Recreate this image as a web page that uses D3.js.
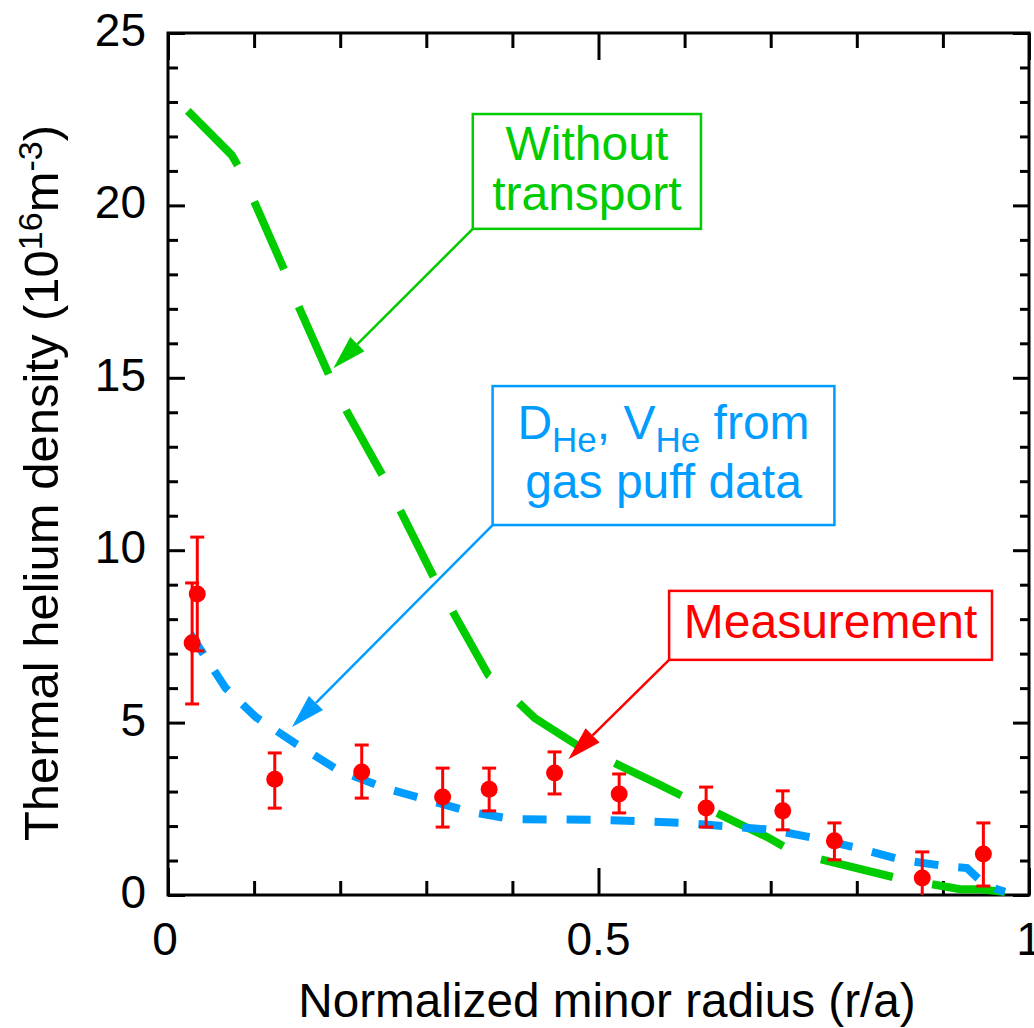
<!DOCTYPE html>
<html>
<head>
<meta charset="utf-8">
<script src="https://cdn.jsdelivr.net/npm/d3@7"></script>
<style>
body { margin: 0; background: #fff; }
text { font-family: Arial, "Liberation Sans", Helvetica, sans-serif; }
</style>
</head>
<body>
<div id="chart"></div>
<script>
// measured points (r/a, density in 1e16 m^-3) with error bar ends
var measX  = [0.028, 0.034, 0.124, 0.225, 0.319, 0.373, 0.449, 0.524, 0.625, 0.714, 0.774, 0.876, 0.947];
var measY  = [7.31, 8.73, 3.36, 3.57, 2.84, 3.07, 3.54, 2.93, 2.52, 2.44, 1.57, 0.49, 1.19];
var measHi = [9.05, 10.38, 4.12, 4.35, 3.68, 3.68, 4.15, 3.51, 3.13, 3.02, 2.09, 1.25, 2.09];
var measLo = [5.54, 7.08, 2.52, 2.81, 1.97, 2.44, 2.93, 2.38, 1.97, 1.89, 1.02, 0.0, 0.26];

// "without transport" profile
var noTransX = [0.023, 0.074, 0.084, 0.135, 0.151, 0.187, 0.208, 0.252, 0.312, 0.372, 0.386, 0.426, 0.475, 0.569, 0.661, 0.696, 0.722, 0.757, 0.847, 0.920, 0.941, 0.972];
var noTransY = [22.74, 21.46, 21.03, 18.13, 17.11, 15.08, 14.01, 12.04, 9.05, 6.38, 6.09, 5.13, 4.35, 3.22, 2.09, 1.68, 1.31, 1.04, 0.49, 0.17, 0.17, 0.09];

// D_He, V_He from gas puff data profile
var gasPuffX = [0.026, 0.067, 0.102, 0.147, 0.197, 0.252, 0.301, 0.351, 0.400, 0.502, 0.600, 0.702, 0.751, 0.801, 0.852, 0.902, 0.928, 0.949, 0.972];
var gasPuffY = [7.57, 6.00, 5.16, 4.41, 3.63, 3.10, 2.76, 2.41, 2.20, 2.18, 2.09, 1.89, 1.65, 1.36, 1.02, 0.84, 0.78, 0.29, 0.09];

var xTicks = [0, 0.1, 0.2, 0.3, 0.4, 0.5, 0.6, 0.7, 0.8, 0.9, 1];
var xMajor = [0, 0.5, 1];
var yTicks = d3.range(0, 26);
var yMajor = [0, 5, 10, 15, 20, 25];

var green = "#00cc00", blue = "#009cff", red = "#ff0000";

var width = 1034, height = 1028;
var margin = {left: 168, right: 5, top: 33, bottom: 133};

var svg = d3.select("#chart").append("svg")
	.attr("width", width)
	.attr("height", height);

var x = d3.scaleLinear().domain([0, 1]).range([margin.left, width - margin.right]);
var y = d3.scaleLinear().domain([0, 25]).range([height - margin.bottom, margin.top]);

function isMajor(list, v) {
	return list.some(function(m) { return Math.abs(m - v) < 1e-9; });
}

// axes: ticks point inward, majors longer
function drawAxis(axis, transform, majors, minorLen, majorLen, sign) {
	var g = svg.append("g").attr("transform", transform).call(axis);
	g.select(".domain").remove();
	g.selectAll(".tick line")
		.attr("stroke", "#000")
		.attr("stroke-width", 3)
		.each(function(d) {
			var len = isMajor(majors, d) ? majorLen : minorLen;
			var el = d3.select(this);
			if (el.attr("x2") != null && +el.attr("x2") != 0) el.attr("x2", sign * len);
			else el.attr("y2", sign * len);
		});
	return g;
}

drawAxis(d3.axisBottom(x).tickValues(xTicks).tickSize(-14).tickFormat(""),
	"translate(0," + y(0) + ")", xMajor, 14, 27, -1);
drawAxis(d3.axisTop(x).tickValues(xTicks).tickSize(-15).tickFormat(""),
	"translate(0," + y(25) + ")", xMajor, 15, 27, 1);
drawAxis(d3.axisLeft(y).tickValues(yTicks).tickSize(-10).tickFormat(""),
	"translate(" + x(0) + ",0)", yMajor, 10, 17, 1);
drawAxis(d3.axisRight(y).tickValues(yTicks).tickSize(-9).tickFormat(""),
	"translate(" + x(1) + ",0)", yMajor, 9, 16, -1);

// frame
svg.append("rect")
	.attr("x", x(0)).attr("y", y(25))
	.attr("width", x(1) - x(0)).attr("height", y(0) - y(25))
	.attr("fill", "none").attr("stroke", "#000").attr("stroke-width", 3);

// tick labels
svg.selectAll(".xlab").data(xMajor).enter().append("text")
	.attr("x", function(d) { return x(d) - (d == 0 ? 3 : 0); })
	.attr("y", y(0) + 60)
	.attr("text-anchor", "middle")
	.attr("font-size", 46)
	.text(function(d) { return d; });

svg.selectAll(".ylab").data(yMajor).enter().append("text")
	.attr("x", x(0) - 22)
	.attr("y", function(d) { return y(d) + 13; })
	.attr("text-anchor", "end")
	.attr("font-size", 46)
	.text(function(d) { return d; });

// axis titles
svg.append("text")
	.attr("x", 607).attr("y", 1017)
	.attr("text-anchor", "middle")
	.attr("font-size", 47.7)
	.text("Normalized minor radius (r/a)");

var yt = svg.append("text")
	.attr("transform", "translate(58,483) rotate(-90)")
	.attr("text-anchor", "middle")
	.attr("font-size", 49);
yt.append("tspan").text("Thermal helium density (10");
yt.append("tspan").attr("font-size", 34).attr("dy", -16).text("16");
yt.append("tspan").attr("dy", 16).text("m");
yt.append("tspan").attr("font-size", 34).attr("dy", -16).text("-3");
yt.append("tspan").attr("dy", 16).text(")");

// profiles
var line = d3.line()
	.x(function(d) { return x(d[0]); })
	.y(function(d) { return y(d[1]); });

svg.append("path")
	.datum(d3.zip(noTransX, noTransY))
	.attr("d", line)
	.attr("fill", "none")
	.attr("stroke", green)
	.attr("stroke-width", 8)
	.attr("stroke-dasharray", "74 40");

svg.append("path")
	.datum(d3.zip(gasPuffX, gasPuffY))
	.attr("d", line)
	.attr("fill", "none")
	.attr("stroke", blue)
	.attr("stroke-width", 8)
	.attr("stroke-dasharray", "24 20");

// measurement with error bars
var meas = measX.map(function(v, i) { return {x: v, y: measY[i], hi: measHi[i], lo: measLo[i]}; });
var eb = svg.append("g").attr("stroke", red).attr("stroke-width", 3);
eb.selectAll(".bar").data(meas).enter().append("line")
	.attr("x1", function(d) { return x(d.x); }).attr("x2", function(d) { return x(d.x); })
	.attr("y1", function(d) { return y(d.hi); }).attr("y2", function(d) { return y(d.lo); });
eb.selectAll(".capHi").data(meas).enter().append("line")
	.attr("x1", function(d) { return x(d.x) - 7; }).attr("x2", function(d) { return x(d.x) + 7; })
	.attr("y1", function(d) { return y(d.hi); }).attr("y2", function(d) { return y(d.hi); });
eb.selectAll(".capLo").data(meas.filter(function(d) { return d.lo > 0; })).enter().append("line")
	.attr("x1", function(d) { return x(d.x) - 7; }).attr("x2", function(d) { return x(d.x) + 7; })
	.attr("y1", function(d) { return y(d.lo); }).attr("y2", function(d) { return y(d.lo); });
svg.selectAll(".pt").data(meas).enter().append("circle")
	.attr("cx", function(d) { return x(d.x); })
	.attr("cy", function(d) { return y(d.y); })
	.attr("r", 8.5)
	.attr("fill", red);

// annotation boxes with arrows (data coordinates)
var notes = [
	{color: green, box: [0.354, 22.65, 0.619, 19.32], from: [0.354, 19.32], to: [0.192, 15.28],
	 lines: [{y: 21.32, parts: [["Without"]]}, {y: 19.87, parts: [["transport"]]}]},
	{color: blue, box: [0.377, 14.76, 0.774, 10.73], from: [0.377, 10.73], to: [0.144, 4.87],
	 lines: [{y: 13.23, parts: [["D"], ["He", "sub"], [", V"], ["He", "sub"], [" from"]]},
	         {y: 11.51, parts: [["gas puff data"]]}]},
	{color: red, box: [0.582, 8.82, 0.957, 6.82], from: [0.582, 6.82], to: [0.465, 3.94],
	 lines: [{y: 7.45, parts: [["Measurement"]]}]}
];

notes.forEach(function(n) {
	var g = svg.append("g");
	var x0 = x(n.box[0]), y0 = y(n.box[1]), x1 = x(n.box[2]), y1 = y(n.box[3]);
	g.append("rect")
		.attr("x", x0).attr("y", y0)
		.attr("width", x1 - x0).attr("height", y1 - y0)
		.attr("fill", "#fff").attr("stroke", n.color).attr("stroke-width", 2.5);
	n.lines.forEach(function(l) {
		var t = g.append("text")
			.attr("x", (x0 + x1) / 2).attr("y", y(l.y))
			.attr("text-anchor", "middle")
			.attr("font-size", 48)
			.attr("fill", n.color);
		var shifted = 0;
		l.parts.forEach(function(p) {
			var ts = t.append("tspan").text(p[0]);
			if (p[1] == "sub") { ts.attr("font-size", 35).attr("dy", 13); shifted = 13; }
			else if (shifted) { ts.attr("dy", -shifted); shifted = 0; }
		});
	});
	// arrow
	var ax = x(n.from[0]), ay = y(n.from[1]), bx = x(n.to[0]), by = y(n.to[1]);
	var ang = Math.atan2(by - ay, bx - ax);
	var hl = 34, hw = 10;
	var cx = bx - hl * Math.cos(ang), cy = by - hl * Math.sin(ang);
	g.append("line")
		.attr("x1", ax).attr("y1", ay).attr("x2", cx).attr("y2", cy)
		.attr("stroke", n.color).attr("stroke-width", 2.5);
	g.append("path")
		.attr("d", "M" + bx + "," + by +
			"L" + (cx + hw * Math.sin(ang)) + "," + (cy - hw * Math.cos(ang)) +
			"L" + (cx - hw * Math.sin(ang)) + "," + (cy + hw * Math.cos(ang)) + "Z")
		.attr("fill", n.color);
});
</script>
</body>
</html>
